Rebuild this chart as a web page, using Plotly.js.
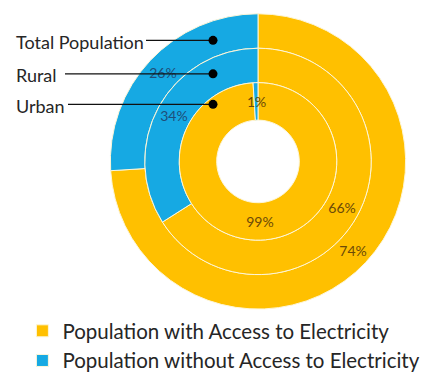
<!DOCTYPE html>
<html>
<head>
<meta charset="utf-8">
<script src="https://cdn.plot.ly/plotly-3.0.1.min.js"></script>
<style>html,body{margin:0;padding:0;background:#fff;}#chart{width:448px;height:381px;}</style>
</head>
<body>
<div id="chart"></div>
<script>
// Data
var categories = ['Population with Access to Electricity', 'Population without Access to Electricity'];
var ringNames = ['Total Population', 'Rural', 'Urban'];
var withAccess = [74, 66, 99];
var withoutAccess = [26, 34, 1];

// Styles / geometry (pixels)
var colors = ['#FFC000', '#16A9E3'];
var textColors = ['#6b4a08', '#1f4e79'];
var W = 448, H = 381, CX = 258, CY = 164;
var radii = [150, 115, 80, 42];
var pctFont = 'Lato, "Open Sans", sans-serif';
var pctSize = 14;

function domainFor(R) {
  return {
    x: [(CX - R) / W, (CX + R) / W],
    y: [(H - CY - R) / H, (H - CY + R) / H]
  };
}

var annotations = [], shapes = [];

var traces = ringNames.map(function (name, i) {
  var total = withAccess[i] + withoutAccess[i];
  var thin = withoutAccess[i] / total < 0.05;
  var templates = ['%{value}%', thin ? '' : '%{value}%'];
  if (thin) {
    // too thin for Plotly's inside text: label it at the ring's mid radius
    var theta = -(withoutAccess[i] / total) * Math.PI; // mid angle, clockwise from top
    var rMid = (radii[i] + radii[i + 1]) / 2;
    annotations.push({
      xref: 'paper', yref: 'paper',
      x: (CX + rMid * Math.sin(theta)) / W,
      y: 1 - (CY - rMid * Math.cos(theta)) / H,
      xanchor: 'center', yanchor: 'middle', showarrow: false,
      text: withoutAccess[i] + '%',
      font: { family: pctFont, size: pctSize, color: textColors[0] }
    });
  }
  return {
    type: 'pie',
    name: name,
    labels: categories,
    values: [withAccess[i], withoutAccess[i]],
    sort: false,
    direction: 'clockwise',
    rotation: 0,
    hole: radii[i + 1] / radii[i],
    domain: domainFor(radii[i]),
    marker: { colors: colors, line: { color: '#fdf6d8', width: 1 } },
    texttemplate: templates,
    textposition: 'inside',
    insidetextorientation: 'horizontal',
    textfont: { family: pctFont, size: pctSize, color: textColors },
    showlegend: i === 0,
    hoverinfo: 'label+value'
  };
});

// Ring labels on the left, with leader lines ending in dots
var dotX = 213;
var labelY = [41, 75, 106];
var lineStart = [146, 65, 68];
ringNames.forEach(function (name, i) {
  var yp = 1 - labelY[i] / H;
  annotations.push({
    xref: 'paper', yref: 'paper', x: 14 / W, y: yp - 1.5 / H,
    xanchor: 'left', yanchor: 'middle', showarrow: false,
    text: name,
    font: { family: 'Lato, "Open Sans", sans-serif', size: 18, color: '#262626' }
  });
  shapes.push({
    type: 'line', xref: 'paper', yref: 'paper',
    x0: lineStart[i] / W, x1: dotX / W, y0: yp, y1: yp,
    line: { color: '#111111', width: 1.3 }
  });
  shapes.push({
    type: 'circle', xref: 'paper', yref: 'paper',
    xsizemode: 'pixel', ysizemode: 'pixel',
    xanchor: dotX / W, yanchor: yp,
    x0: -4.5, x1: 4.5, y0: -4.5, y1: 4.5,
    fillcolor: '#000000', line: { color: '#000000', width: 0 }
  });
});

var layout = {
  width: W, height: H,
  margin: { l: 0, r: 0, t: 0, b: 0 },
  paper_bgcolor: '#ffffff',
  showlegend: true,
  uniformtext: { minsize: pctSize, mode: 'show' },
  legend: {
    x: 0.05, y: 0.17, xanchor: 'left', yanchor: 'top',
    font: { family: 'Lato, "Open Sans", sans-serif', size: 20.5, color: '#262626' },
    bgcolor: 'rgba(0,0,0,0)', traceorder: 'normal'
  },
  annotations: annotations,
  shapes: shapes
};

Plotly.newPlot('chart', traces, layout, { displayModeBar: false, staticPlot: true });
</script>
</body>
</html>
